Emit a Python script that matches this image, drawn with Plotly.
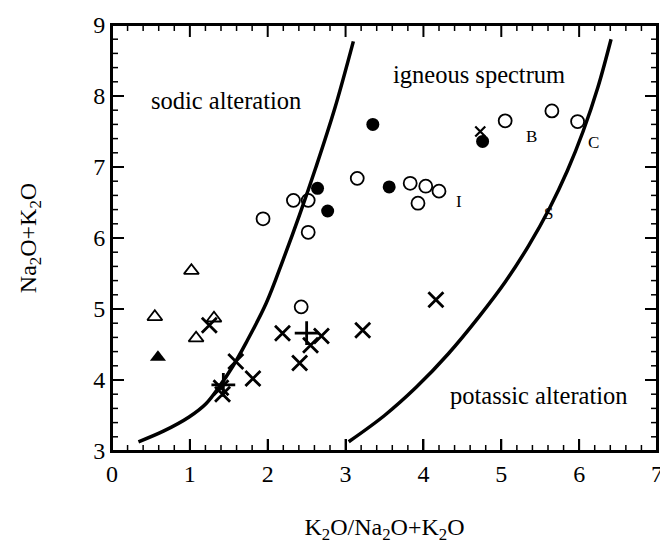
import plotly.graph_objects as go

# ---- data ----
open_circle_x = [1.94, 2.33, 2.52, 2.52, 3.15, 3.83, 4.03, 4.20, 3.93, 5.05, 5.65, 5.98, 2.43]
open_circle_y = [6.27, 6.53, 6.53, 6.08, 6.84, 6.77, 6.73, 6.66, 6.49, 7.65, 7.79, 7.64, 5.03]

filled_circle_x = [3.35, 2.64, 2.77, 3.56, 4.76]
filled_circle_y = [7.60, 6.70, 6.38, 6.72, 7.36]

open_tri_x = [1.02, 0.55, 1.08, 1.31]
open_tri_y = [5.54, 4.89, 4.59, 4.87]

filled_tri_x = [0.59]
filled_tri_y = [4.32]

cross_x = [1.25, 2.19, 2.69, 2.55, 2.41, 1.81, 1.59, 1.40, 1.42, 3.22, 4.16]
cross_y = [4.77, 4.66, 4.62, 4.49, 4.24, 4.02, 4.26, 3.89, 3.80, 4.70, 5.13]

small_cross_x = [4.73]
small_cross_y = [7.50]

plus_x = [2.50, 1.43]
plus_y = [4.66, 3.93]

left_curve_x = [0.34, 0.66, 0.99, 1.21, 1.38, 1.55, 1.72, 1.98, 2.20, 2.41, 2.62, 2.86, 3.10]
left_curve_y = [3.13, 3.28, 3.48, 3.67, 3.91, 4.19, 4.52, 5.08, 5.70, 6.33, 7.00, 7.82, 8.77]

right_curve_x = [3.04, 3.50, 3.91, 4.32, 4.72, 5.05, 5.35, 5.62, 5.85, 6.05, 6.24, 6.41]
right_curve_y = [3.13, 3.50, 3.90, 4.37, 4.90, 5.38, 5.89, 6.42, 6.95, 7.50, 8.12, 8.80]

region_labels = ["sodic alteration", "igneous spectrum", "potassic alteration"]
region_x = [1.46, 4.71, 5.48]
region_y = [7.94, 8.30, 3.78]

letter_labels = ["B", "C", "I", "S"]
letter_x = [5.39, 6.19, 4.46, 5.61]
letter_y = [7.43, 7.34, 6.51, 6.35]

x_ticks = [0, 1, 2, 3, 4, 5, 6, 7]
y_ticks = [3, 4, 5, 6, 7, 8, 9]
MINOR_PER_MAJOR = 5

X_RANGE = [x_ticks[0], x_ticks[-1]]
Y_RANGE = [y_ticks[0], y_ticks[-1]]

FONT = "Liberation Serif, Times New Roman, serif"

# layout geometry (page body adds an 8 px offset, so the figure is 8 px smaller)
FIG_W, FIG_H = 660, 542
MARGIN = dict(l=104, r=11, t=17, b=99)
PX_PER_X = (FIG_W - MARGIN["l"] - MARGIN["r"]) / (X_RANGE[1] - X_RANGE[0])
PX_PER_Y = (FIG_H - MARGIN["t"] - MARGIN["b"]) / (Y_RANGE[1] - Y_RANGE[0])

fig = go.Figure()

# ---- tick marks on all four sides, built from the tick arrays ----
def tick_values(ticks):
    step = (ticks[1] - ticks[0]) / MINOR_PER_MAJOR
    minor = [round(ticks[0] + i * step, 6)
             for i in range((len(ticks) - 1) * MINOR_PER_MAJOR + 1) if i % MINOR_PER_MAJOR]
    return list(ticks), minor

def tick_segments(xvals, yvals, length):
    xs, ys = [], []
    dy = length / PX_PER_Y
    dx = length / PX_PER_X
    for v in xvals:
        xs += [v, v, None, v, v, None]
        ys += [Y_RANGE[0], Y_RANGE[0] + dy, None, Y_RANGE[1], Y_RANGE[1] - dy, None]
    for v in yvals:
        xs += [X_RANGE[0], X_RANGE[0] + dx, None, X_RANGE[1], X_RANGE[1] - dx, None]
        ys += [v, v, None, v, v, None]
    return xs, ys

xmaj, xmin = tick_values(x_ticks)
ymaj, ymin = tick_values(y_ticks)
for xv, yv, length, width in [(xmaj, ymaj, 12, 2), (xmin, ymin, 6, 1.5)]:
    tx, ty = tick_segments(xv, yv, length)
    fig.add_trace(go.Scatter(x=tx, y=ty, mode="lines", connectgaps=False,
                             line=dict(color="black", width=width),
                             hoverinfo="skip", showlegend=False, cliponaxis=False))

# frame
fig.add_trace(go.Scatter(x=[X_RANGE[0], X_RANGE[1], X_RANGE[1], X_RANGE[0], X_RANGE[0]],
                         y=[Y_RANGE[0], Y_RANGE[0], Y_RANGE[1], Y_RANGE[1], Y_RANGE[0]],
                         mode="lines", line=dict(color="black", width=2),
                         hoverinfo="skip", showlegend=False, cliponaxis=False))

for cx, cy in [(left_curve_x, left_curve_y), (right_curve_x, right_curve_y)]:
    fig.add_trace(go.Scatter(x=cx, y=cy, mode="lines",
                             line=dict(color="black", width=3.5, shape="spline", smoothing=1.0),
                             hoverinfo="skip", showlegend=False))

fig.add_trace(go.Scatter(x=open_circle_x, y=open_circle_y, mode="markers",
                         marker=dict(symbol="circle-open", size=13, color="black", line=dict(width=1.8)),
                         showlegend=False))
fig.add_trace(go.Scatter(x=filled_circle_x, y=filled_circle_y, mode="markers",
                         marker=dict(symbol="circle", size=13, color="black"),
                         showlegend=False))
fig.add_trace(go.Scatter(x=open_tri_x, y=open_tri_y, mode="markers",
                         marker=dict(symbol="triangle-up-open", size=13, color="black", line=dict(width=1.8)),
                         showlegend=False))
fig.add_trace(go.Scatter(x=filled_tri_x, y=filled_tri_y, mode="markers",
                         marker=dict(symbol="triangle-up", size=14, color="black"),
                         showlegend=False))
fig.add_trace(go.Scatter(x=cross_x, y=cross_y, mode="markers",
                         marker=dict(symbol="x-thin", size=15, color="black",
                                     line=dict(width=2.8, color="black")),
                         showlegend=False))
fig.add_trace(go.Scatter(x=small_cross_x, y=small_cross_y, mode="markers",
                         marker=dict(symbol="x-thin", size=10, color="black",
                                     line=dict(width=2.2, color="black")),
                         showlegend=False))
fig.add_trace(go.Scatter(x=plus_x, y=plus_y, mode="markers",
                         marker=dict(symbol="cross-thin", size=17, color="black",
                                     line=dict(width=2.8, color="black")),
                         showlegend=False))

annotations = []
for t, x, y in zip(region_labels, region_x, region_y):
    annotations.append(dict(x=x, y=y, text=t, showarrow=False,
                            font=dict(family=FONT, size=24.5, color="black")))
for t, x, y in zip(letter_labels, letter_x, letter_y):
    annotations.append(dict(x=x, y=y, text=t, showarrow=False,
                            font=dict(family=FONT, size=17, color="black")))

def axis_style(rng, ticks, title_text, standoff):
    return dict(
        range=rng, tickmode="array", tickvals=ticks, ticktext=[str(t) for t in ticks],
        showline=True, linecolor="black", linewidth=2, mirror=True,
        ticks="inside", ticklen=12, tickwidth=2, tickcolor="black",
        showgrid=False, zeroline=False, automargin=False,
        tickfont=dict(family=FONT, size=24, color="black"),
        title=dict(text=title_text, font=dict(family=FONT, size=24, color="black"),
                   standoff=standoff),
    )

fig.update_layout(
    width=FIG_W, height=FIG_H,
    margin=MARGIN,
    paper_bgcolor="white", plot_bgcolor="white",
    annotations=annotations,
    xaxis=axis_style(X_RANGE, x_ticks, "K<sub>2</sub>O/Na<sub>2</sub>O+K<sub>2</sub>O", 32),
    yaxis=axis_style(Y_RANGE, y_ticks, "Na<sub>2</sub>O+K<sub>2</sub>O", 50),
)

fig.write_html("out.html")
